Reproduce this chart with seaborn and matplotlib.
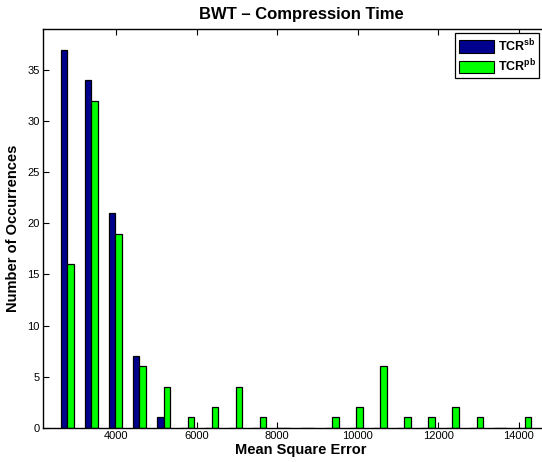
import matplotlib
matplotlib.use("Agg")
import matplotlib.pyplot as plt
import seaborn as sns
import pandas as pd
from matplotlib.patches import Patch

# ---- data ----
bin_centers = [2785, 3383, 3981, 4579, 5177, 5775, 6373, 6971, 7569, 8167,
               8765, 9363, 9961, 10559, 11157, 11755, 12353, 12951, 13549, 14147]
tcr_sb = [37, 34, 21, 7, 1, 0, 0, 0, 0, 0,
          0, 0, 0, 0, 0, 0, 0, 0, 0, 0]
tcr_pb = [16, 32, 19, 6, 4, 1, 2, 4, 1, 0,
          0, 1, 2, 6, 1, 1, 2, 1, 0, 1]
series_names = ["sb", "pb"]
x_ticks = [4000, 6000, 8000, 10000, 12000, 14000]
y_ticks = [0, 5, 10, 15, 20, 25, 30, 35]
colors = ["#00008F", "#00FF00"]

df = pd.DataFrame({
    "mse": bin_centers * 2,
    "count": tcr_sb + tcr_pb,
    "series": [series_names[0]] * len(bin_centers) + [series_names[1]] * len(bin_centers),
})

sns.set_theme(style="ticks")
plt.rcParams["font.family"] = ["Liberation Sans", "DejaVu Sans"]
plt.rcParams["mathtext.fontset"] = "custom"
plt.rcParams["mathtext.rm"] = "Liberation Sans"
plt.rcParams["mathtext.bf"] = "Liberation Sans:bold"
plt.rcParams["text.color"] = "black"
plt.rcParams["axes.labelcolor"] = "black"
plt.rcParams["xtick.color"] = "black"
plt.rcParams["ytick.color"] = "black"

fig = plt.figure(figsize=(5.42, 4.62), dpi=100)
ax = fig.add_axes([43 / 542, 34.3 / 462, 516 / 542, 398.4 / 462])

sns.barplot(data=df, x="mse", y="count", hue="series", native_scale=True,
            palette=colors, width=0.54, dodge=True, errorbar=None,
            edgecolor="black", linewidth=0.9, saturation=1, ax=ax, legend=False)

ax.set_xlim(2184, 15000)
ax.set_ylim(0, 39)
ax.set_xticks(x_ticks)
ax.set_xticklabels([str(t) for t in x_ticks])
ax.set_yticks(y_ticks)
ax.set_yticklabels([str(t) for t in y_ticks])
ax.tick_params(direction="in", length=4, width=0.8, labelsize=8, colors="black",
               labelcolor="black", top=True, right=True, pad=2.5)
for s in ax.spines.values():
    s.set_visible(True)
    s.set_color("black")
    s.set_linewidth(1.0)

ax.set_xlabel("Mean Square Error", fontsize=10.5, fontweight="bold", labelpad=1,
              color="black")
ax.set_ylabel("Number of Occurrences", fontsize=10.5, fontweight="bold", labelpad=5,
              color="black")
ax.set_title("BWT \u2013 Compression Time", fontsize=12, fontweight="bold", pad=7.5,
             color="black")

handles = [Patch(facecolor=colors[0], edgecolor="black", linewidth=0.8),
           Patch(facecolor=colors[1], edgecolor="black", linewidth=0.8)]
labels = [r"$\mathbf{TCR}^{\mathbf{sb}}$", r"$\mathbf{TCR}^{\mathbf{pb}}$"]
leg = fig.legend(handles, labels, loc="upper left",
                 bbox_to_anchor=(455 / 542, 1 - 33.5 / 462),
                 fontsize=9, frameon=True, fancybox=False, framealpha=1,
                 edgecolor="black", handlelength=2.8, handleheight=1.2,
                 handletextpad=0.3, borderpad=0.3, labelspacing=0.3,
                 borderaxespad=0)
leg.get_frame().set_linewidth(0.9)
for t in leg.get_texts():
    t.set_color("black")

fig.savefig("out.png", dpi=100)
